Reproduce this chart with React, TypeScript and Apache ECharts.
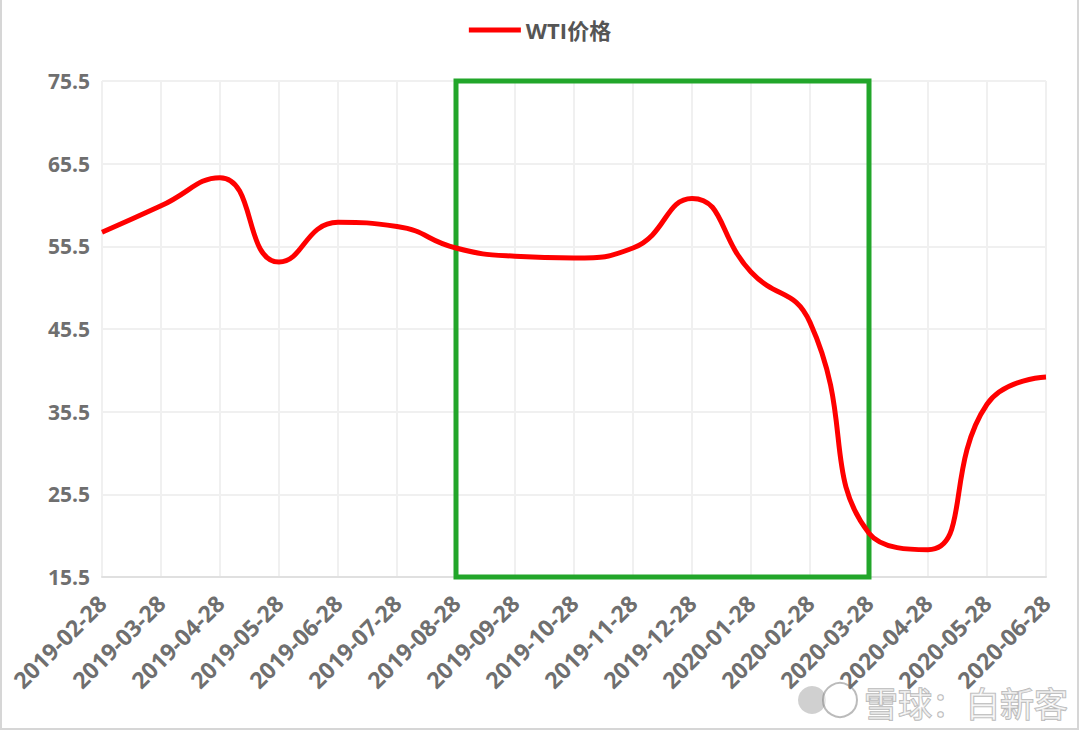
import React, { useEffect, useRef } from "react";
import * as echarts from "echarts";

const categories = [
  "2019-02-28", "2019-03-28", "2019-04-28", "2019-05-28", "2019-06-28",
  "2019-07-28", "2019-08-28", "2019-09-28", "2019-10-28", "2019-11-28",
  "2019-12-28", "2020-01-28", "2020-02-28", "2020-03-28", "2020-04-28",
  "2020-05-28", "2020-06-28",
];
const wtiPrices = [
  57.2, 60.4, 63.8, 53.6, 58.4, 57.9, 55.3, 54.3, 54.1, 55.3,
  61.3, 52.4, 46.3, 20.8, 18.8, 36.4, 39.7,
];
const seriesName = "WTI价格";
const highlightStart = "2019-08-28";
const highlightEnd = "2020-03-28";
const yMin = 15.5;
const yMax = 75.5;
const yStep = 10;
const watermarkText = "雪球：白新客";

export default function App() {
  const ref = useRef<HTMLDivElement>(null);
  useEffect(() => {
    document.body.style.margin = "0";
    const chart = echarts.init(ref.current!, undefined, { renderer: "svg" });
    const labelColor = "#6f6f6f";
    const font = "'Open Sans', 'Noto Sans CJK SC', sans-serif";
    chart.setOption({
      animation: false,
      backgroundColor: "#ffffff",
      legend: {
        top: 14,
        left: "center",
        itemWidth: 52,
        itemHeight: 5,
        itemGap: 6,
        textStyle: { fontSize: 22, fontWeight: "bold", color: "#555", fontFamily: font },
        data: [{ name: seriesName, icon: "rect" }],
      },
      grid: { left: 102, right: 34, top: 81, bottom: 156 },
      xAxis: {
        type: "category",
        data: categories,
        boundaryGap: false,
        axisLine: { lineStyle: { color: "#e0e0e0", width: 2 } },
        axisTick: { show: false },
        axisLabel: {
          rotate: 45,
          interval: 0,
          margin: 22,
          fontSize: 23,
          fontWeight: "bold",
          color: labelColor,
          fontFamily: font,
        },
        splitLine: { show: true, lineStyle: { color: "#f0f0f0", width: 2 } },
      },
      yAxis: {
        type: "value",
        min: yMin,
        max: yMax,
        interval: yStep,
        axisLine: { show: false },
        axisTick: { show: false },
        axisLabel: {
          margin: 12,
          fontSize: 21,
          fontWeight: "bold",
          color: labelColor,
          fontFamily: font,
          formatter: (v: number) => v.toFixed(1),
        },
        splitLine: { lineStyle: { color: "#f0f0f0", width: 2 } },
      },
      series: [
        {
          name: seriesName,
          type: "line",
          data: wtiPrices,
          smooth: 0.5,
          symbol: "none",
          lineStyle: { color: "#ff0000", width: 5 },
          itemStyle: { color: "#ff0000" },
          markArea: {
            silent: true,
            itemStyle: {
              color: "rgba(0,0,0,0)",
              borderColor: "#22a62a",
              borderWidth: 5,
            },
            data: [[
              { xAxis: highlightStart, yAxis: yMax },
              { xAxis: highlightEnd, yAxis: yMin },
            ]],
          },
          z: 3,
        },
      ],
      graphic: [
        {
          type: "rect",
          shape: { x: 1, y: -2, width: 1077, height: 731 },
          style: { fill: "none", stroke: "#d6d6d6", lineWidth: 2 },
          silent: true,
        },
        {
          type: "circle",
          shape: { cx: 812, cy: 700, r: 14 },
          style: { fill: "rgba(150,150,150,0.45)", stroke: "none" },
          silent: true,
        },
        {
          type: "circle",
          shape: { cx: 840, cy: 700, r: 17 },
          style: { fill: "rgba(255,255,255,0.5)", stroke: "rgba(120,120,120,0.5)", lineWidth: 2 },
          silent: true,
        },
        {
          type: "text",
          x: 864,
          y: 702,
          style: {
            text: watermarkText,
            fontSize: 34,
            fontFamily: "'Noto Sans CJK SC', sans-serif",
            fill: "rgba(255,255,255,0.55)",
            stroke: "rgba(110,110,110,0.5)",
            lineWidth: 1.5,
            verticalAlign: "middle",
          },
          silent: true,
        },
      ],
    });
    return () => chart.dispose();
  }, []);
  return <div ref={ref} style={{ width: 1080, height: 733 }} />;
}
